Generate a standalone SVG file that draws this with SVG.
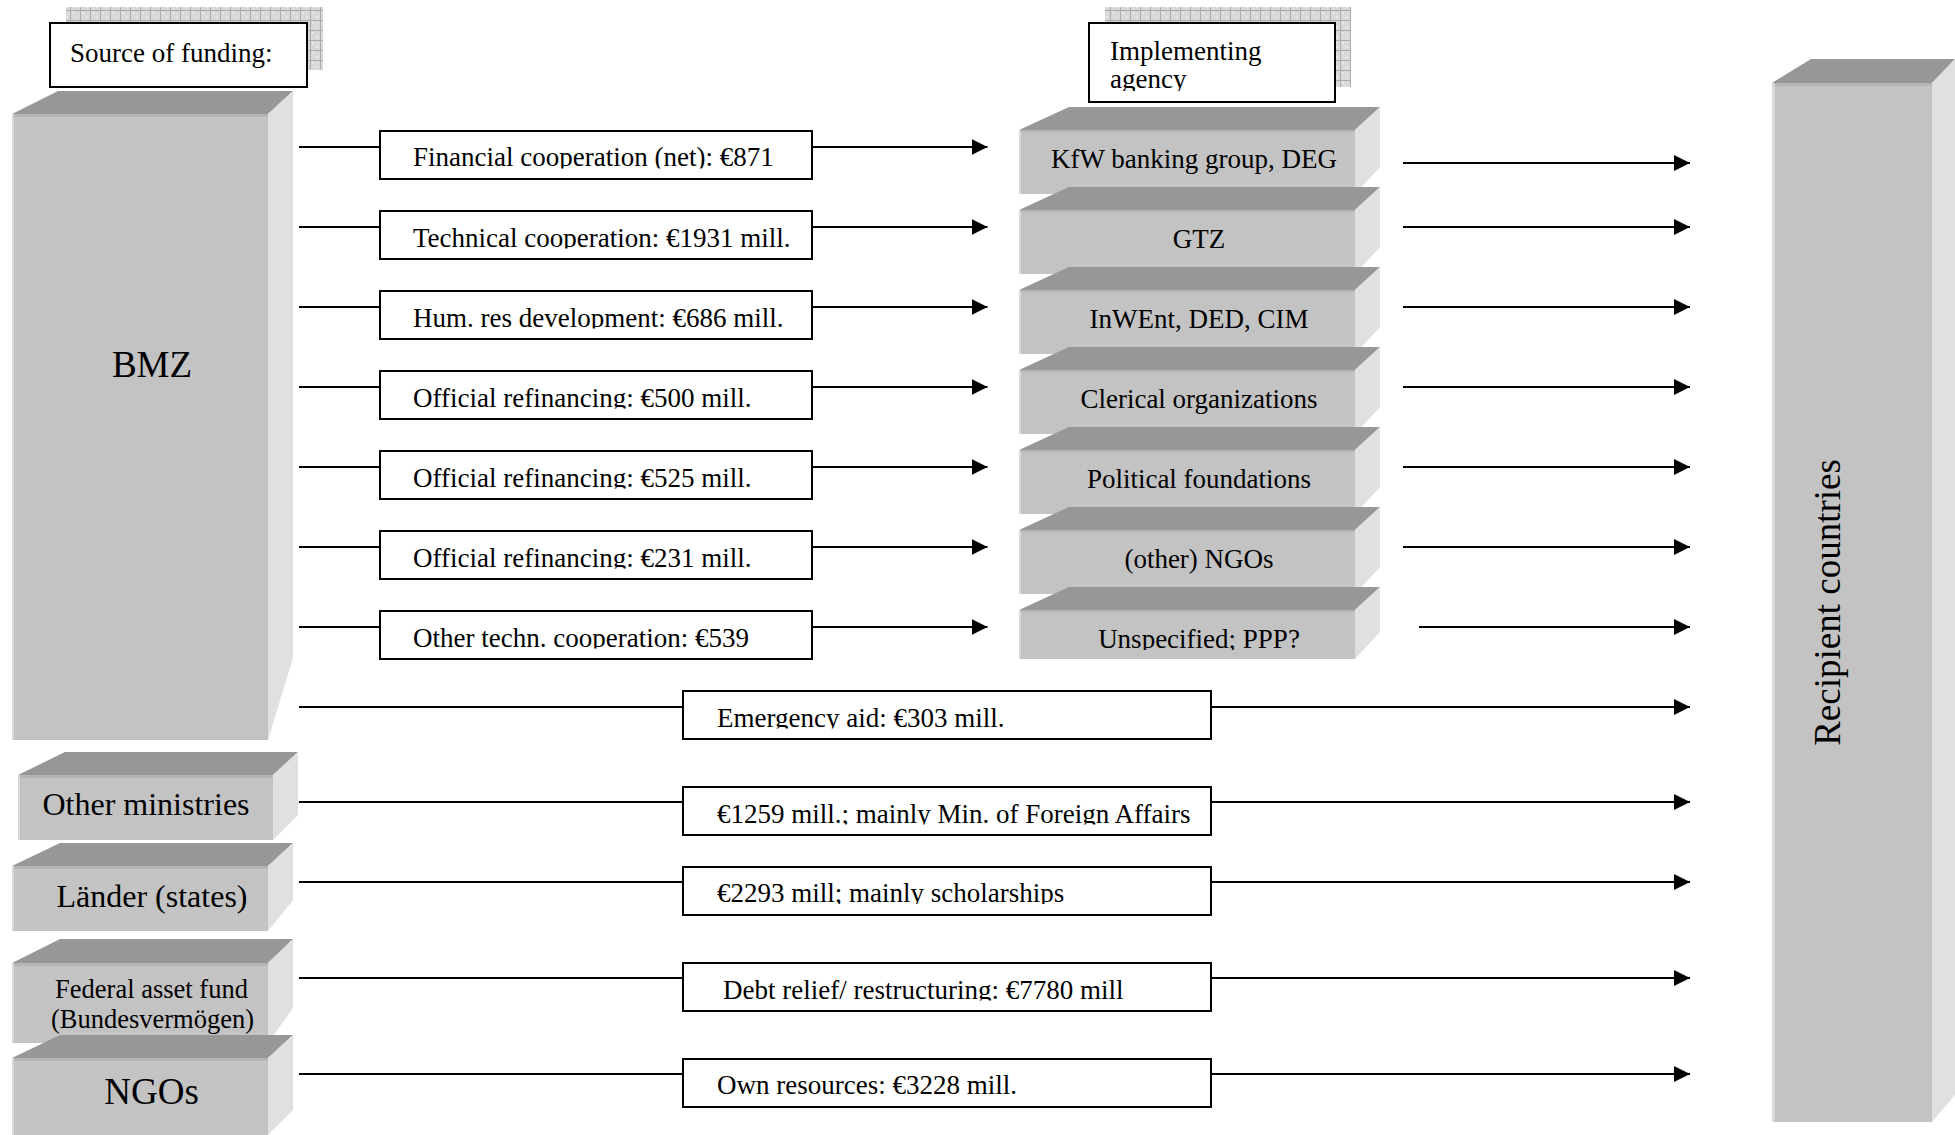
<svg xmlns="http://www.w3.org/2000/svg" width="1955" height="1135" viewBox="0 0 1955 1135">
<style>
.top{fill:#979797}
.front{fill:#c3c3c3}
.side{fill:#e0e0e0}
.edge{fill:#d8d8d8}
.band{fill:#b5b5b5}
.t{font-family:"Liberation Serif","Times New Roman",serif;fill:#000;font-size:27px}
.box{fill:#fff;stroke:#000;stroke-width:2}
.ln{stroke:#000;stroke-width:2;fill:none}
.arr{marker-end:url(#ah)}
.mid{text-anchor:middle}
</style>
<defs>
<marker id="ah" markerWidth="16" markerHeight="16" refX="16" refY="8" orient="auto" markerUnits="userSpaceOnUse">
<path d="M0,0 L16,8 L0,16 z" fill="#000"/>
</marker>
<pattern id="hatch" width="10" height="10" patternUnits="userSpaceOnUse">
<rect width="10" height="10" fill="#d9d9d9"/>
<rect x="2" y="2" width="2" height="2" fill="#e6e6e6"/>
<rect x="6" y="6" width="2" height="2" fill="#e6e6e6"/>
<path d="M0,0.5 H10 M0.5,0 V10" stroke="#ababab" stroke-width="1"/>
</pattern>
<clipPath id="c0"><rect x="380" y="131" width="432" height="37.5"/></clipPath>
<clipPath id="c1"><rect x="380" y="211" width="432" height="37.5"/></clipPath>
<clipPath id="c2"><rect x="380" y="291" width="432" height="37.5"/></clipPath>
<clipPath id="c3"><rect x="380" y="371" width="432" height="37.5"/></clipPath>
<clipPath id="c4"><rect x="380" y="451" width="432" height="37.5"/></clipPath>
<clipPath id="c5"><rect x="380" y="531" width="432" height="37.5"/></clipPath>
<clipPath id="c6"><rect x="380" y="611" width="432" height="37.5"/></clipPath>
<clipPath id="m0"><rect x="683" y="691" width="528" height="37.5"/></clipPath>
<clipPath id="m1"><rect x="683" y="787" width="528" height="37.5"/></clipPath>
<clipPath id="m2"><rect x="683" y="867" width="528" height="37"/></clipPath>
<clipPath id="m3"><rect x="683" y="963" width="528" height="37.5"/></clipPath>
<clipPath id="m4"><rect x="683" y="1059" width="528" height="37"/></clipPath>
<clipPath id="cimpl"><rect x="1089" y="23" width="246" height="68"/></clipPath>
<clipPath id="cuns"><rect x="1019" y="610" width="336" height="40"/></clipPath>
</defs>

<rect width="1955" height="1135" fill="#fff"/>

<!-- Header: Source of funding -->
<g id="header-source">
<rect x="66" y="7" width="257" height="63" fill="url(#hatch)"/>
<rect class="box" x="50" y="23" width="257" height="64"/>
<text class="t" x="70" y="62">Source of funding:</text>
</g>

<!-- Header: Implementing agency -->
<g id="header-agency">
<rect x="1105" y="7" width="246" height="80" fill="url(#hatch)"/>
<rect class="box" x="1089" y="23" width="246" height="79"/>
<g clip-path="url(#cimpl)">
<text class="t" x="1110" y="60">Implementing</text>
<text class="t" x="1110" y="87.5">agency</text>
</g>
</g>

<!-- Source blocks -->
<g id="node-bmz">
<polygon class="top" points="12,114 58,91 293,91 268,114"/>
<polygon class="side" points="268,114 293,91 293,658 268,740"/>
<rect class="front" x="12" y="114" width="256" height="626"/>
<rect class="band" x="12" y="114" width="256" height="3"/>
<rect class="edge" x="12" y="114" width="2" height="626"/>
<text class="t mid" x="152" y="377" style="font-size:37px">BMZ</text>
</g>

<g id="node-other-ministries">
<polygon class="top" points="18,775 65,752 298,752 273,775"/>
<polygon class="side" points="273,775 298,752 298,815 273,840"/>
<rect class="front" x="18" y="775" width="255" height="65"/>
<rect class="band" x="18" y="775" width="255" height="3"/>
<rect class="edge" x="18" y="775" width="2" height="65"/>
<text class="t mid" x="146" y="815" style="font-size:32px">Other ministries</text>
</g>

<g id="node-laender">
<polygon class="top" points="12,866 60,843 293,843 268,866"/>
<polygon class="side" points="268,866 293,843 293,900 268,931"/>
<rect class="front" x="12" y="866" width="256" height="65"/>
<rect class="band" x="12" y="866" width="256" height="3"/>
<rect class="edge" x="12" y="866" width="2" height="65"/>
<text class="t mid" x="152" y="907" style="font-size:32px">Länder (states)</text>
</g>

<g id="node-federal-asset-fund">
<polygon class="top" points="12,963 60,939 293,939 268,963"/>
<polygon class="side" points="268,963 293,939 293,1008 268,1043"/>
<rect class="front" x="12" y="963" width="256" height="80"/>
<rect class="band" x="12" y="963" width="256" height="3"/>
<rect class="edge" x="12" y="963" width="2" height="80"/>
<text class="t mid" x="151.5" y="998" style="font-size:26.5px">Federal asset fund</text>
<text class="t mid" x="152.5" y="1028" style="font-size:26.5px">(Bundesvermögen)</text>
</g>

<g id="node-ngos">
<polygon class="top" points="12,1058 60,1035 293,1035 268,1058"/>
<polygon class="side" points="268,1058 293,1035 293,1110 268,1135"/>
<rect class="front" x="12" y="1058" width="256" height="77"/>
<rect class="band" x="12" y="1058" width="256" height="3"/>
<rect class="edge" x="12" y="1058" width="2" height="77"/>
<text class="t mid" x="151.5" y="1104" style="font-size:37px">NGOs</text>
</g>

<!-- Implementing agencies -->
<g id="node-kfw">
<polygon class="top" points="1019,130 1069,107 1380,107 1355,130"/>
<polygon class="side" points="1355,130 1380,107 1380,167 1355,194"/>
<rect class="front" x="1019" y="130" width="336" height="64"/>
<rect class="band" x="1019" y="130" width="336" height="2"/>
<rect class="edge" x="1019" y="130" width="2" height="64"/>
<text class="t mid" x="1194" y="168">KfW banking group, DEG</text>
</g>

<g id="node-gtz">
<polygon class="top" points="1019,210 1069,187 1380,187 1355,210"/>
<polygon class="side" points="1355,210 1380,187 1380,247 1355,274"/>
<rect class="front" x="1019" y="210" width="336" height="64"/>
<rect class="band" x="1019" y="210" width="336" height="2"/>
<rect class="edge" x="1019" y="210" width="2" height="64"/>
<text class="t mid" x="1199" y="248">GTZ</text>
</g>

<g id="node-inwent">
<polygon class="top" points="1019,290 1069,267 1380,267 1355,290"/>
<polygon class="side" points="1355,290 1380,267 1380,327 1355,354"/>
<rect class="front" x="1019" y="290" width="336" height="64"/>
<rect class="band" x="1019" y="290" width="336" height="2"/>
<rect class="edge" x="1019" y="290" width="2" height="64"/>
<text class="t mid" x="1199" y="328">InWEnt, DED, CIM</text>
</g>

<g id="node-clerical">
<polygon class="top" points="1019,370 1069,347 1380,347 1355,370"/>
<polygon class="side" points="1355,370 1380,347 1380,407 1355,434"/>
<rect class="front" x="1019" y="370" width="336" height="64"/>
<rect class="band" x="1019" y="370" width="336" height="2"/>
<rect class="edge" x="1019" y="370" width="2" height="64"/>
<text class="t mid" x="1199" y="408">Clerical organizations</text>
</g>

<g id="node-political">
<polygon class="top" points="1019,450 1069,427 1380,427 1355,450"/>
<polygon class="side" points="1355,450 1380,427 1380,487 1355,514"/>
<rect class="front" x="1019" y="450" width="336" height="64"/>
<rect class="band" x="1019" y="450" width="336" height="2"/>
<rect class="edge" x="1019" y="450" width="2" height="64"/>
<text class="t mid" x="1199" y="488">Political foundations</text>
</g>

<g id="node-other-ngos">
<polygon class="top" points="1019,530 1069,507 1380,507 1355,530"/>
<polygon class="side" points="1355,530 1380,507 1380,567 1355,594"/>
<rect class="front" x="1019" y="530" width="336" height="64"/>
<rect class="band" x="1019" y="530" width="336" height="2"/>
<rect class="edge" x="1019" y="530" width="2" height="64"/>
<text class="t mid" x="1199" y="568">(other) NGOs</text>
</g>

<g id="node-unspecified">
<polygon class="top" points="1019,610 1069,587 1380,587 1355,610"/>
<polygon class="side" points="1355,610 1380,587 1380,632 1355,659"/>
<rect class="front" x="1019" y="610" width="336" height="49"/>
<rect class="band" x="1019" y="610" width="336" height="2"/>
<rect class="edge" x="1019" y="610" width="2" height="49"/>
<text class="t mid" x="1199" y="648" clip-path="url(#cuns)">Unspecified; PPP?</text>
</g>

<!-- Recipient countries -->
<g id="node-recipient">
<polygon class="top" points="1772,83 1811,59 1955,59 1932,83"/>
<polygon class="side" points="1932,83 1955,59 1955,1095 1932,1122"/>
<rect class="front" x="1772" y="83" width="160" height="1039"/>
<rect class="band" x="1772" y="83" width="160" height="3"/>
<rect class="edge" x="1772" y="83" width="3" height="1039"/>
<text class="t mid" transform="translate(1840,602.5) rotate(-90)" x="0" y="0" style="font-size:37px">Recipient countries</text>
</g>

<!-- Connectors -->
<g id="connectors">
<path class="ln" d="M299,147 H380"/><path class="ln arr" d="M812,147 H987.5"/>
<path class="ln" d="M299,227 H380"/><path class="ln arr" d="M812,227 H987.5"/>
<path class="ln" d="M299,307 H380"/><path class="ln arr" d="M812,307 H987.5"/>
<path class="ln" d="M299,387 H380"/><path class="ln arr" d="M812,387 H987.5"/>
<path class="ln" d="M299,467 H380"/><path class="ln arr" d="M812,467 H987.5"/>
<path class="ln" d="M299,547 H380"/><path class="ln arr" d="M812,547 H987.5"/>
<path class="ln" d="M299,627 H380"/><path class="ln arr" d="M812,627 H987.5"/>

<path class="ln arr" d="M1403,163 H1690"/>
<path class="ln arr" d="M1403,227 H1690"/>
<path class="ln arr" d="M1403,307 H1690"/>
<path class="ln arr" d="M1403,387 H1690"/>
<path class="ln arr" d="M1403,467 H1690"/>
<path class="ln arr" d="M1403,547 H1690"/>
<path class="ln arr" d="M1419,627 H1690"/>

<path class="ln" d="M299,707 H683"/><path class="ln arr" d="M1211,707 H1690"/>
<path class="ln" d="M299,802 H683"/><path class="ln arr" d="M1211,802 H1690"/>
<path class="ln" d="M299,882 H683"/><path class="ln arr" d="M1211,882 H1690"/>
<path class="ln" d="M299,978 H683"/><path class="ln arr" d="M1211,978 H1690"/>
<path class="ln" d="M299,1074 H683"/><path class="ln arr" d="M1211,1074 H1690"/>
</g>

<!-- Connector labels -->
<g id="label-financial">
<rect class="box" x="380" y="131" width="432" height="48"/>
<text class="t" x="413" y="166" clip-path="url(#c0)">Financial cooperation (net): €871</text>
</g>
<g id="label-technical">
<rect class="box" x="380" y="211" width="432" height="48"/>
<text class="t" x="413" y="246.5" clip-path="url(#c1)">Technical cooperation: €1931 mill.</text>
</g>
<g id="label-humres">
<rect class="box" x="380" y="291" width="432" height="48"/>
<text class="t" x="413" y="326.5" clip-path="url(#c2)">Hum. res development: €686 mill.</text>
</g>
<g id="label-refin-500">
<rect class="box" x="380" y="371" width="432" height="48"/>
<text class="t" x="413" y="406.5" clip-path="url(#c3)">Official refinancing: €500 mill.</text>
</g>
<g id="label-refin-525">
<rect class="box" x="380" y="451" width="432" height="48"/>
<text class="t" x="413" y="486.5" clip-path="url(#c4)">Official refinancing: €525 mill.</text>
</g>
<g id="label-refin-231">
<rect class="box" x="380" y="531" width="432" height="48"/>
<text class="t" x="413" y="566.5" clip-path="url(#c5)">Official refinancing: €231 mill.</text>
</g>
<g id="label-other-techn">
<rect class="box" x="380" y="611" width="432" height="48"/>
<text class="t" x="413" y="646.5" clip-path="url(#c6)">Other techn. cooperation: €539</text>
</g>

<g id="label-emergency">
<rect class="box" x="683" y="691" width="528" height="48"/>
<text class="t" x="717" y="726.5" clip-path="url(#m0)">Emergency aid: €303 mill.</text>
</g>
<g id="label-ministries">
<rect class="box" x="683" y="787" width="528" height="48"/>
<text class="t" x="717" y="822.5" clip-path="url(#m1)">€1259 mill.; mainly Min. of Foreign Affairs</text>
</g>
<g id="label-laender">
<rect class="box" x="683" y="867" width="528" height="48"/>
<text class="t" x="717" y="902" clip-path="url(#m2)">€2293 mill; mainly scholarships</text>
</g>
<g id="label-debt">
<rect class="box" x="683" y="963" width="528" height="48"/>
<text class="t" x="723" y="998.5" clip-path="url(#m3)">Debt relief/ restructuring: €7780 mill</text>
</g>
<g id="label-own">
<rect class="box" x="683" y="1059" width="528" height="48"/>
<text class="t" x="717" y="1094" clip-path="url(#m4)">Own resources: €3228 mill.</text>
</g>
</svg>
